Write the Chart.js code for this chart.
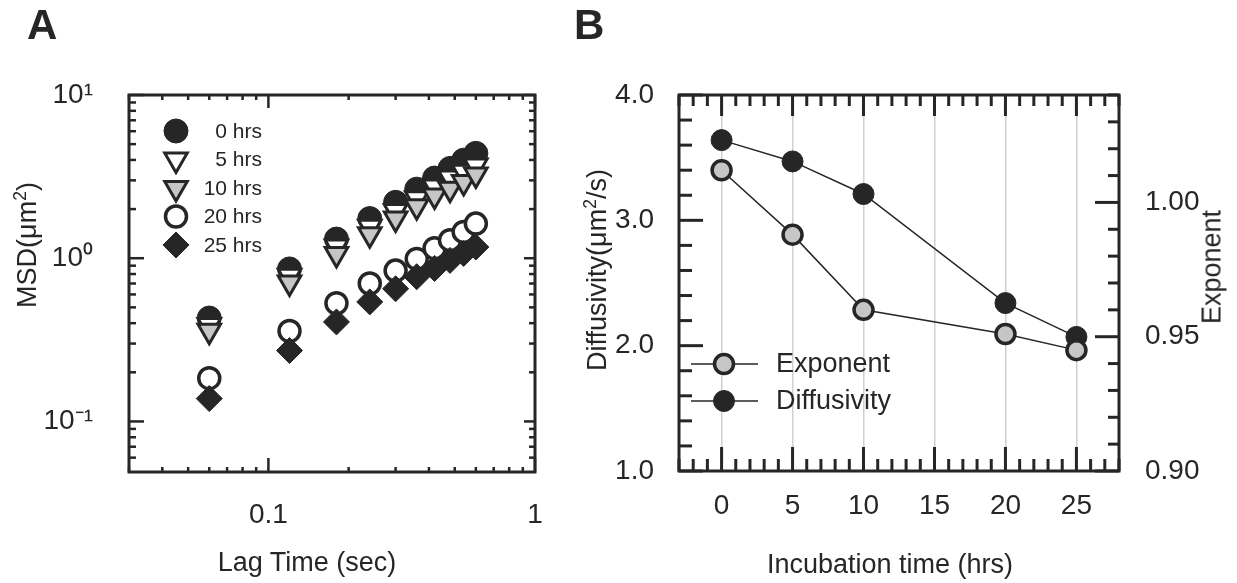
<!DOCTYPE html>
<html>
<head>
    <title>MSD and diffusivity vs incubation time</title>
    <script src="https://cdn.jsdelivr.net/npm/chart.js"></script>
    <style>
        body {
            margin: 0;
            width: 1237px;
            height: 583px;
            overflow: hidden;
            background: #fff;
            font-family: Arial, "Liberation Sans", sans-serif;
            color: #262626;
        }
        canvas {
            position: absolute;
            top: 0;
        }
        .txt {
            position: absolute;
            white-space: nowrap;
            line-height: 1;
            font-size: 27px;
        }
        .panel {
            position: absolute;
            font-weight: bold;
            font-size: 42px;
            line-height: 1;
        }
        .htitle { transform: translateX(-50%); }
        .vtitle { transform: translate(-50%, -50%) rotate(-90deg); }
        sup {
            font-size: 0.65em;
            vertical-align: 0.55em;
            line-height: 0;
        }
    </style>
</head>
<body>
    <canvas id="msdChart" width="600" height="583" style="left:0"></canvas>
    <canvas id="fitChart" width="637" height="583" style="left:600px"></canvas>

    <div class="panel" style="left:27px; top:4px">A</div>
    <div class="panel" style="left:574px; top:4px">B</div>

    <div class="txt htitle" style="left:307px; top:549px">Lag Time (sec)</div>
    <div class="txt vtitle" style="left:27px; top:245px">MSD(μm<sup>2</sup>)</div>

    <div class="txt htitle" style="left:890px; top:551px">Incubation time (hrs)</div>
    <div class="txt vtitle" style="left:597px; top:270px">Diffusivity(μm<sup>2</sup>/s)</div>
    <div class="txt vtitle" style="left:1212px; top:267px">Exponent</div>

    <script>
        // Panel A: mean squared displacement vs lag time
        const lagTime = [0.06, 0.12, 0.18, 0.24, 0.30, 0.36, 0.42, 0.48, 0.54, 0.60];
        const msd0h  = [0.43, 0.86, 1.31, 1.75, 2.20, 2.65, 3.10, 3.55, 3.99, 4.39];
        const msd5h  = [0.39, 0.78, 1.18, 1.56, 1.95, 2.33, 2.75, 3.12, 3.39, 3.70];
        const msd10h = [0.36, 0.71, 1.06, 1.40, 1.75, 2.08, 2.42, 2.66, 2.93, 3.26];
        const msd20h = [0.184, 0.358, 0.53, 0.70, 0.84, 0.99, 1.15, 1.29, 1.45, 1.63];
        const msd25h = [0.138, 0.272, 0.407, 0.54, 0.65, 0.77, 0.865, 0.97, 1.07, 1.17];
        const msdLabels = ['0 hrs', '5 hrs', '10 hrs', '20 hrs', '25 hrs'];

        const lagTickValues = [0.1, 1];
        const lagTickLabels = ['0.1', '1'];
        const msdTickValues = [0.1, 1, 10];
        const msdTickLabels = ['10⁻¹', '10⁰', '10¹'];

        // Panel B: fitted diffusivity and exponent vs incubation time
        const incubation = [0, 5, 10, 20, 25];
        const diffusivity = [3.64, 3.47, 3.21, 2.34, 2.07];
        const exponent = [1.012, 0.988, 0.960, 0.951, 0.945];

        const hourTickValues = [0, 5, 10, 15, 20, 25];
        const diffTickValues = [1, 2, 3, 4];
        const diffTickLabels = ['1.0', '2.0', '3.0', '4.0'];
        const expTickValues = [0.90, 0.95, 1.00];
        const expTickLabels = ['0.90', '0.95', '1.00'];

        const INK = '#262626';
        const GRAY = '#c6c6c6';
        const GRID = '#d0d0d0';

        Chart.defaults.color = INK;
        Chart.defaults.font.family = 'Arial, "Liberation Sans", sans-serif';

        function near(a, b) {
            return Math.abs(a - b) <= 1e-6 * Math.max(1, Math.abs(b));
        }
        function labelFor(v, values, labels) {
            const i = values.findIndex(t => near(v, t));
            return i < 0 ? '' : labels[i];
        }
        function isDecade(v) {
            const l = Math.log10(v);
            return Math.abs(l - Math.round(l)) < 1e-6;
        }
        // log axes: keep only 1..9 x 10^n ticks
        function keepWholeMantissa(scale) {
            scale.ticks = scale.ticks.filter(t => {
                const m = t.value / Math.pow(10, Math.floor(Math.log10(t.value) + 1e-9));
                return Math.abs(m - Math.round(m)) < 1e-6;
            });
        }

        // box around the plot with inward tick marks on every side
        function frameWithTicks(sides, tickWidth, frameWidth) {
            return {
                id: 'frameWithTicks',
                afterDatasetsDraw(chart) {
                    const { ctx, chartArea: a } = chart;
                    ctx.save();
                    ctx.strokeStyle = INK;
                    ctx.lineWidth = tickWidth;
                    sides.forEach(s => {
                        const scale = chart.scales[s.scale];
                        scale.ticks.forEach(t => {
                            const p = scale.getPixelForValue(t.value);
                            const len = s.isMajor(t.value) ? s.major : s.minor;
                            ctx.beginPath();
                            if (s.side === 'bottom') { ctx.moveTo(p, a.bottom); ctx.lineTo(p, a.bottom - len); }
                            if (s.side === 'top') { ctx.moveTo(p, a.top); ctx.lineTo(p, a.top + len); }
                            if (s.side === 'left') { ctx.moveTo(a.left, p); ctx.lineTo(a.left + len, p); }
                            if (s.side === 'right') { ctx.moveTo(a.right, p); ctx.lineTo(a.right - len, p); }
                            ctx.stroke();
                        });
                    });
                    ctx.lineWidth = frameWidth;
                    ctx.strokeRect(a.left, a.top, a.width, a.height);
                    ctx.restore();
                }
            };
        }

        function drawMarker(ctx, ds, x, y) {
            ctx.fillStyle = ds.pointBackgroundColor;
            ctx.strokeStyle = ds.pointBorderColor;
            ctx.lineWidth = ds.pointBorderWidth;
            Chart.helpers.drawPoint(ctx, {
                pointStyle: ds.pointStyle || 'circle',
                rotation: ds.pointRotation || 0,
                radius: ds.pointRadius,
                borderWidth: ds.pointBorderWidth
            }, x, y);
        }

        const legendMsd = {
            id: 'legendMsd',
            afterDatasetsDraw(chart) {
                const ctx = chart.ctx;
                ctx.save();
                chart.data.datasets.forEach((ds, i) => {
                    const y = 131 + i * 28.5;
                    drawMarker(ctx, ds, 176, y);
                    ctx.fillStyle = INK;
                    ctx.font = '21px Arial, "Liberation Sans", sans-serif';
                    ctx.textAlign = 'right';
                    ctx.textBaseline = 'middle';
                    ctx.fillText(ds.label, 262, y + 1);
                });
                ctx.restore();
            }
        };

        const legendFit = {
            id: 'legendFit',
            afterDatasetsDraw(chart) {
                const ctx = chart.ctx;
                ctx.save();
                chart.data.datasets.forEach((ds, i) => {
                    const y = 364 + i * 37;
                    ctx.strokeStyle = INK;
                    ctx.lineWidth = 1.5;
                    ctx.beginPath();
                    ctx.moveTo(91, y);
                    ctx.lineTo(158, y);
                    ctx.stroke();
                    drawMarker(ctx, ds, 124, y);
                    ctx.fillStyle = INK;
                    ctx.font = '27px Arial, "Liberation Sans", sans-serif';
                    ctx.textAlign = 'left';
                    ctx.textBaseline = 'middle';
                    ctx.fillText(ds.label, 176, y + 1);
                });
                ctx.restore();
            }
        };

        const msdValues = [msd0h, msd5h, msd10h, msd20h, msd25h];
        const msdStyles = [
            { pointStyle: 'circle', pointRadius: 12, pointBorderWidth: 1, pointBackgroundColor: INK, pointRotation: 0 },
            { pointStyle: 'triangle', pointRadius: 13, pointBorderWidth: 3, pointBackgroundColor: '#fff', pointRotation: 180 },
            { pointStyle: 'triangle', pointRadius: 13, pointBorderWidth: 3, pointBackgroundColor: GRAY, pointRotation: 180 },
            { pointStyle: 'circle', pointRadius: 10.5, pointBorderWidth: 3.5, pointBackgroundColor: '#fff', pointRotation: 0 },
            { pointStyle: 'rectRot', pointRadius: 13, pointBorderWidth: 1, pointBackgroundColor: INK, pointRotation: 0 }
        ];

        new Chart(document.getElementById('msdChart'), {
            type: 'scatter',
            data: {
                datasets: msdValues.map((vals, i) => ({
                    label: msdLabels[i],
                    data: lagTime.map((t, j) => ({ x: t, y: vals[j] })),
                    ...msdStyles[i],
                    pointBorderColor: INK,
                    pointHoverRadius: msdStyles[i].pointRadius,
                    order: msdValues.length - i
                }))
            },
            options: {
                responsive: false,
                animation: false,
                events: [],
                layout: { padding: { top: 95, right: 65, left: 0, bottom: 0 } },
                plugins: {
                    legend: { display: false },
                    tooltip: { enabled: false }
                },
                scales: {
                    x: {
                        type: 'logarithmic',
                        min: 0.03,
                        max: 1,
                        grid: { display: false },
                        border: { display: false },
                        ticks: {
                            autoSkip: false,
                            maxRotation: 0,
                            padding: 18,
                            font: { size: 28 },
                            callback: v => labelFor(v, lagTickValues, lagTickLabels)
                        },
                        afterBuildTicks: keepWholeMantissa,
                        afterFit: s => { s.height = 111; }
                    },
                    y: {
                        type: 'logarithmic',
                        min: 0.049,
                        max: 10,
                        grid: { display: false },
                        border: { display: false },
                        ticks: {
                            autoSkip: false,
                            padding: 28,
                            font: { size: 28 },
                            callback: v => labelFor(v, msdTickValues, msdTickLabels)
                        },
                        afterBuildTicks: keepWholeMantissa,
                        afterFit: s => { s.width = 129; }
                    }
                }
            },
            plugins: [
                frameWithTicks([
                    { scale: 'x', side: 'bottom', major: 14, minor: 5, isMajor: isDecade },
                    { scale: 'x', side: 'top', major: 13, minor: 5, isMajor: isDecade },
                    { scale: 'y', side: 'left', major: 15, minor: 7, isMajor: isDecade },
                    { scale: 'y', side: 'right', major: 11, minor: 6, isMajor: isDecade }
                ], 2.5, 3),
                legendMsd
            ]
        });

        new Chart(document.getElementById('fitChart'), {
            type: 'line',
            data: {
                datasets: [
                    {
                        label: 'Exponent',
                        yAxisID: 'y2',
                        data: incubation.map((h, i) => ({ x: h, y: exponent[i] })),
                        borderColor: INK,
                        borderWidth: 1.5,
                        tension: 0,
                        pointStyle: 'circle',
                        pointRadius: 9.5,
                        pointHoverRadius: 9.5,
                        pointBorderWidth: 3.5,
                        pointBackgroundColor: GRAY,
                        pointBorderColor: INK
                    },
                    {
                        label: 'Diffusivity',
                        yAxisID: 'y',
                        data: incubation.map((h, i) => ({ x: h, y: diffusivity[i] })),
                        borderColor: INK,
                        borderWidth: 1.5,
                        tension: 0,
                        pointStyle: 'circle',
                        pointRadius: 10.5,
                        pointHoverRadius: 10.5,
                        pointBorderWidth: 1,
                        pointBackgroundColor: INK,
                        pointBorderColor: INK
                    }
                ]
            },
            options: {
                responsive: false,
                animation: false,
                events: [],
                layout: { padding: { top: 95, right: 0, left: 0, bottom: 0 } },
                plugins: {
                    legend: { display: false },
                    tooltip: { enabled: false }
                },
                scales: {
                    x: {
                        type: 'linear',
                        min: -3,
                        max: 28,
                        grid: {
                            drawTicks: false,
                            lineWidth: 1.5,
                            color: c => (c.tick && hourTickValues.includes(c.tick.value)) ? GRID : 'rgba(0,0,0,0)'
                        },
                        border: { display: false },
                        ticks: {
                            stepSize: 1,
                            autoSkip: false,
                            maxRotation: 0,
                            padding: 18,
                            font: { size: 28 },
                            callback: v => hourTickValues.includes(v) ? String(v) : ''
                        },
                        afterFit: s => { s.height = 112; }
                    },
                    y: {
                        type: 'linear',
                        position: 'left',
                        min: 1,
                        max: 4,
                        grid: { display: false },
                        border: { display: false },
                        ticks: {
                            stepSize: 0.2,
                            autoSkip: false,
                            padding: 17,
                            font: { size: 28 },
                            callback: v => labelFor(v, diffTickValues, diffTickLabels)
                        },
                        afterFit: s => { s.width = 79; }
                    },
                    y2: {
                        type: 'linear',
                        position: 'right',
                        min: 0.90,
                        max: 1.04,
                        grid: { display: false },
                        border: { display: false },
                        ticks: {
                            stepSize: 0.01,
                            autoSkip: false,
                            padding: 18,
                            font: { size: 28 },
                            callback: v => labelFor(v, expTickValues, expTickLabels)
                        },
                        afterFit: s => { s.width = 118; }
                    }
                }
            },
            plugins: [
                frameWithTicks([
                    { scale: 'x', side: 'bottom', major: 24, minor: 12, isMajor: v => v % 5 === 0 },
                    { scale: 'x', side: 'top', major: 21, minor: 11, isMajor: v => v % 5 === 0 },
                    { scale: 'y', side: 'left', major: 24, minor: 13, isMajor: v => near(v, Math.round(v)) },
                    { scale: 'y2', side: 'right', major: 24, minor: 11, isMajor: v => expTickValues.some(t => near(v, t)) }
                ], 3, 3),
                legendFit
            ]
        });
    </script>
</body>
</html>
